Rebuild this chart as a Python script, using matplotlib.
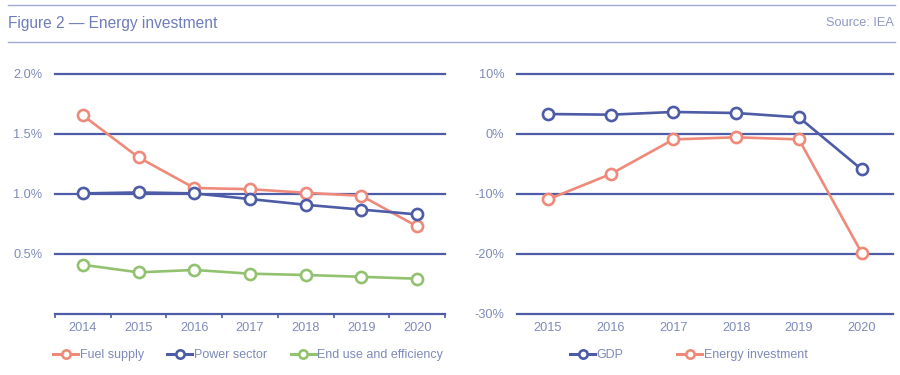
import matplotlib
matplotlib.use("Agg")
import matplotlib.pyplot as plt
from matplotlib.lines import Line2D
import numpy as np

# Left panel data (% of GDP)
years_left = ["2014", "2015", "2016", "2017", "2018", "2019", "2020"]
fuel_supply = [1.655, 1.305, 1.05, 1.04, 1.01, 0.985, 0.73]
power_sector = [1.005, 1.013, 1.005, 0.958, 0.91, 0.87, 0.83]
end_use = [0.41, 0.347, 0.367, 0.336, 0.325, 0.31, 0.294]
left_ticks = [0.5, 1.0, 1.5, 2.0]
left_tick_labels = ["0.5%", "1.0%", "1.5%", "2.0%"]

# Right panel data (% change)
years_right = ["2015", "2016", "2017", "2018", "2019", "2020"]
gdp = [3.33, 3.22, 3.67, 3.5, 2.78, -5.9]
energy_investment = [-10.9, -6.67, -0.9, -0.55, -0.9, -19.8]
right_ticks = [-30, -20, -10, 0, 10]
right_tick_labels = ["-30%", "-20%", "-10%", "0%", "10%"]

SALMON = "#EF8A7B"
NAVY = "#4E5BA6"
GREEN = "#92C26F"
TEXT = "#7F8AB9"
RULE = "#A3AACD"
FONT = "Liberation Sans"

plt.rcParams["font.family"] = [FONT, "DejaVu Sans"]

W, H = 900, 375
fig = plt.figure(figsize=(9, 3.75), dpi=100)

def fx(px):
    return px / W

def fy(py):
    return 1 - py / H

# header rules and texts
fig.add_artist(Line2D([fx(8), fx(895)], [fy(5), fy(5)], color=RULE, lw=1.0))
fig.add_artist(Line2D([fx(8), fx(895)], [fy(42), fy(42)], color=RULE, lw=1.0))
fig.text(fx(8), fy(23.5), "Figure 2 \u2014 Energy investment", color="#6E7DB8",
         fontsize=11.2, va="center", ha="left")
fig.text(fx(894), fy(23.5), "Source: IEA", color="#8E98C4",
         fontsize=9.2, va="center", ha="right")

line_kw = dict(lw=1.9, marker="o", markersize=8, markerfacecolor="white",
               markeredgewidth=1.9, clip_on=False, zorder=3)

# Left axes
axL = fig.add_axes([fx(55), fy(314), fx(445) - fx(55), fy(74) - fy(314)])
xl = np.arange(len(years_left))
for t in left_ticks:
    axL.axhline(t, color=NAVY, lw=1.6, zorder=1, clip_on=False)
axL.plot(xl, fuel_supply, color=SALMON, label="Fuel supply", **line_kw)
axL.plot(xl, power_sector, color=NAVY, label="Power sector", **line_kw)
axL.plot(xl, end_use, color=GREEN, label="End use and efficiency", **line_kw)
axL.set_xlim(-0.5, len(years_left) - 0.5)
axL.set_ylim(0, 2.0)
axL.set_yticks(left_ticks)
axL.set_yticklabels(left_tick_labels)
axL.set_xticks(xl)
axL.set_xticklabels(years_left)
axL.set_xticks(np.arange(len(years_left) + 1) - 0.5, minor=True)
axL.tick_params(axis="x", which="major", length=0, pad=6, labelcolor=TEXT, labelsize=9.2)
axL.tick_params(axis="x", which="minor", length=3, width=1.2, color=NAVY, direction="out")
axL.tick_params(axis="y", length=0, pad=9, labelcolor=TEXT, labelsize=9.2)
for s in ["top", "right", "left"]:
    axL.spines[s].set_visible(False)
axL.spines["bottom"].set_color(NAVY)
axL.spines["bottom"].set_linewidth(1.6)
axL.patch.set_alpha(0)

# Right axes
axR = fig.add_axes([fx(516.7), fy(314), fx(893) - fx(516.7), fy(74) - fy(314)])
xr = np.arange(len(years_right))
for t in right_ticks:
    axR.axhline(t, color=NAVY, lw=1.6, zorder=1, clip_on=False)
axR.plot(xr, gdp, color=NAVY, label="GDP", **line_kw)
axR.plot(xr, energy_investment, color=SALMON, label="Energy investment", **line_kw)
axR.set_xlim(-0.5, len(years_right) - 0.5)
axR.set_ylim(-30, 10)
axR.set_yticks(right_ticks)
axR.set_yticklabels(right_tick_labels)
axR.set_xticks(xr)
axR.set_xticklabels(years_right)
axR.tick_params(axis="x", length=0, pad=6, labelcolor=TEXT, labelsize=9.2)
axR.tick_params(axis="y", length=0, pad=9, labelcolor=TEXT, labelsize=9.2)
for s in ["top", "right", "left", "bottom"]:
    axR.spines[s].set_visible(False)
axR.patch.set_alpha(0)

leg_kw = dict(frameon=False, handlelength=2.0, handletextpad=0.1, fontsize=9,
              labelcolor=TEXT, loc="center", borderaxespad=0, borderpad=0)
hL, lL = axL.get_legend_handles_labels()
legL = fig.legend(hL, lL, ncol=3, columnspacing=1.9,
                  bbox_to_anchor=(fx(248), fy(355)), **leg_kw)
hR, lR = axR.get_legend_handles_labels()
legR = fig.legend(hR, lR, ncol=2, columnspacing=4.3,
                  bbox_to_anchor=(fx(689), fy(355)), **leg_kw)
for leg in (legL, legR):
    for h in leg.legend_handles:
        h.set_markersize(6)
        h.set_linewidth(2.2)

fig.savefig("out.png", dpi=100, facecolor="white")
